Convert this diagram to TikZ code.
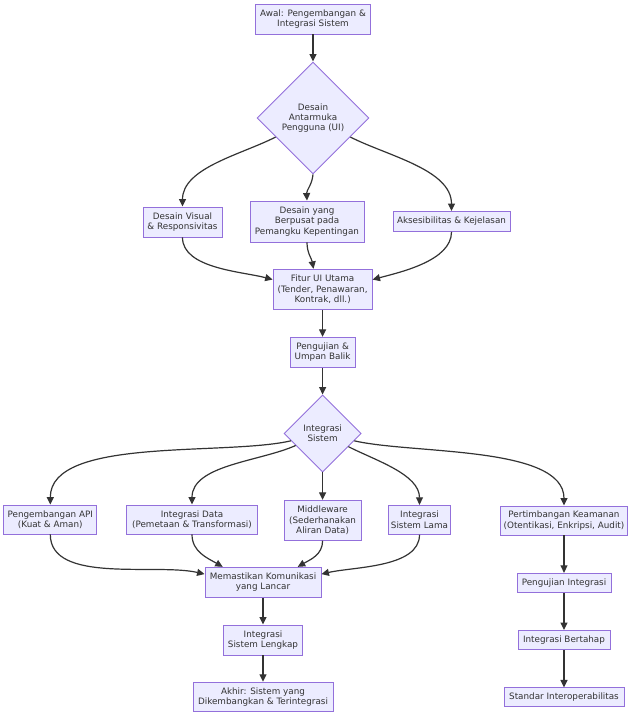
\documentclass[tikz,border=0pt]{standalone}
\usepackage{fontspec}
\setmainfont{DejaVu Sans}
\usetikzlibrary{shapes.geometric,arrows.meta}
\definecolor{nodefill}{HTML}{ECECFF}
\definecolor{nodeline}{HTML}{9370DB}
\definecolor{edgecol}{HTML}{333333}
\tikzset{
  box/.style={draw=nodeline, fill=nodefill, line width=0.9pt, inner sep=0pt, align=center, text=edgecol,
    font=\fontsize{8.8}{10.4}\selectfont},
  dia/.style={box, diamond, shape aspect=1},
  arr/.style={draw=edgecol, line width=1.2pt, -{Triangle[length=7.5pt,width=7pt]}},
}
\begin{document}
\begin{tikzpicture}[x=1pt,y=-1pt]
\useasboundingbox (0,0) rectangle (640,724);
\node[box, minimum width=115, minimum height=30] (start) at (313,19) {Awal: Pengembangan \&\\Integrasi Sistem};
\node[dia, minimum width=112, minimum height=112] (ui) at (313,118) {Desain\\Antarmuka\\Pengguna (UI)};
\node[box, minimum width=79, minimum height=30] (vis) at (182.5,222) {Desain Visual\\\& Responsivitas};
\node[box, minimum width=114, minimum height=41] (stake) at (307,221.5) {Desain yang\\Berpusat pada\\Pemangku Kepentingan};
\node[box, minimum width=117, minimum height=20] (aks) at (451.5,221.5) {Aksesibilitas \& Kejelasan};
\node[box, minimum width=99, minimum height=40] (fitur) at (322.6,289.3) {Fitur UI Utama\\(Tender, Penawaran,\\Kontrak, dll.)};
\node[box, minimum width=65, minimum height=30] (uji) at (322.6,352.3) {Pengujian \&\\Umpan Balik};
\node[dia, minimum width=77, minimum height=77] (is) at (322.6,433.5) {Integrasi\\Sistem};
\node[box, minimum width=93, minimum height=29] (api) at (50.3,519.5) {Pengembangan API\\(Kuat \& Aman)};
\node[box, minimum width=131, minimum height=29] (data) at (192,519.5) {Integrasi Data\\(Pemetaan \& Transformasi)};
\node[box, minimum width=77, minimum height=40] (mw) at (322.6,520.3) {Middleware\\(Sederhanakan\\Aliran Data)};
\node[box, minimum width=62, minimum height=29] (lama) at (419.5,519.8) {Integrasi\\Sistem Lama};
\node[box, minimum width=127, minimum height=29] (pert) at (564,520.5) {Pertimbangan Keamanan\\(Otentikasi, Enkripsi, Audit)};
\node[box, minimum width=116, minimum height=30] (mem) at (263,582.3) {Memastikan Komunikasi\\yang Lancar};
\node[box, minimum width=79, minimum height=30] (lengkap) at (263,640) {Integrasi\\Sistem Lengkap};
\node[box, minimum width=140, minimum height=29.5] (akhir) at (263,697) {Akhir: Sistem yang\\Dikembangkan \& Terintegrasi};
\node[box, minimum width=94, minimum height=19] (pi) at (564,582.8) {Pengujian Integrasi};
\node[box, minimum width=92, minimum height=19] (ib) at (564,640) {Integrasi Bertahap};
\node[box, minimum width=120, minimum height=19] (std) at (564,697.4) {Standar Interoperabilitas};

\draw[arr] (start) -- (ui);
\draw[arr] (ui.207) to[out=207,in=90,looseness=0.85] (vis.north);
\draw[arr] (ui.south) to[out=-95,in=93] (stake.north);
\draw[arr] (ui.333) to[out=-27,in=90,looseness=0.85] (aks.north);
\draw[arr] (vis.south) to[out=-90,in=165,looseness=0.8] (fitur.169);
\draw[arr] (stake.south) to[out=-90,in=100] (fitur.114);
\draw[arr] (aks.south) to[out=-90,in=15,looseness=0.8] (fitur.11);
\draw[arr] (fitur) -- (uji);
\draw[arr] (uji) -- (is);
\draw[arr] (is.193) to[out=193,in=90,looseness=0.7] (api.north);
\draw[arr] (is.204) to[out=204,in=90,looseness=0.85] (data.north);
\draw[arr] (is.south) -- (mw.north);
\draw[arr] (is.333) to[out=-27,in=90,looseness=0.85] (lama.north);
\draw[arr] (is.347) to[out=-13,in=90,looseness=0.7] (pert.north);
\draw[arr] (api.south) to[out=-90,in=167,looseness=0.8] (mem.172);
\draw[arr] (data.south) to[out=-90,in=150] (mem.159);
\draw[arr] (mw.south) to[out=-90,in=30] (mem.24);
\draw[arr] (lama.south) to[out=-90,in=13,looseness=0.8] (mem.8);
\draw[arr] (mem) -- (lengkap);
\draw[arr] (lengkap) -- (akhir);
\draw[arr] (pert) -- (pi);
\draw[arr] (pi) -- (ib);
\draw[arr] (ib) -- (std);
\end{tikzpicture}
\end{document}
